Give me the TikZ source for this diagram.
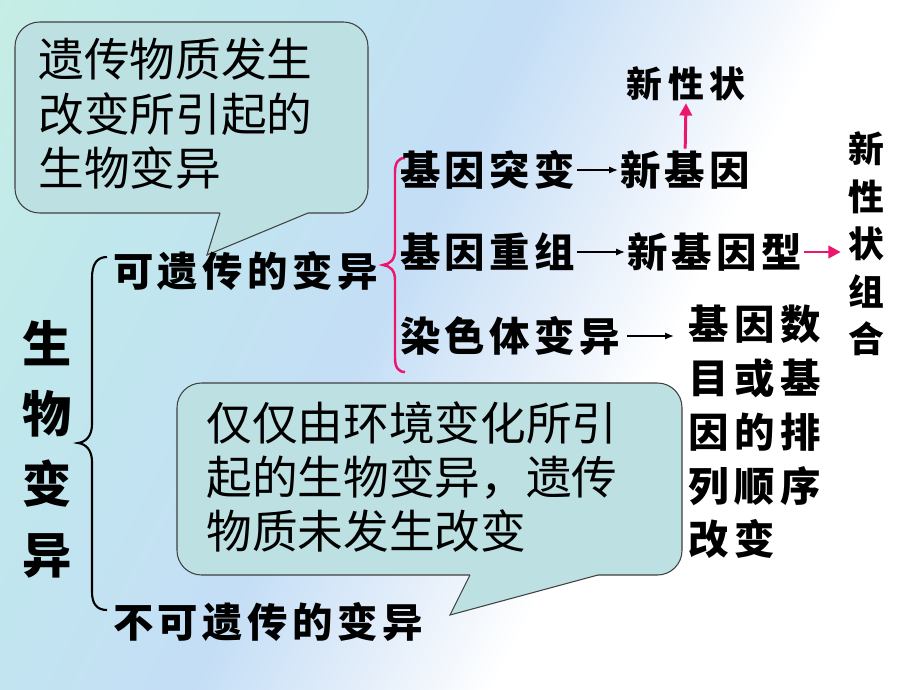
\documentclass[tikz,border=0pt]{standalone}
\usepackage{fontspec}
\newfontfamily\cjktext{Noto Sans CJK SC}
\newfontfamily\cjkbrush[LetterSpace=11]{Noto Sans CJK SC}
\newfontfamily\cjkblock[LetterSpace=14]{Noto Sans CJK SC}
\newfontfamily\cjkwide[LetterSpace=17]{Noto Sans CJK SC}
\usetikzlibrary{arrows.meta}

\definecolor{calloutfill}{RGB}{189,225,227}
\definecolor{pinkline}{RGB}{236,22,110}
\definecolor{bgmint}{RGB}{206,245,220}
\definecolor{bgcyan}{RGB}{192,232,236}
\definecolor{bgblue}{RGB}{196,222,246}
\definecolor{bgpale}{RGB}{228,238,250}
\pgfdeclarehorizontalshading{bgshade}{100bp}{color(0bp)=(bgmint); color(28bp)=(bgcyan); color(45bp)=(bgblue); color(54bp)=(bgpale); color(61bp)=(white); color(100bp)=(white)}

\tikzset{
  callout/.style={draw=black!75, fill=calloutfill, line width=0.6pt},
  callouttext/.style={font=\cjktext\fontsize{26}{31}\selectfont, align=left, inner sep=0pt},
  brushtext/.style={font=\cjkbrush\bfseries\fontsize{23}{27}\selectfont, inner sep=1pt},
  smallbrush/.style={font=\cjkwide\bfseries\fontsize{20.4}{24}\selectfont, inner sep=1pt},
  blockbrush/.style={font=\cjkblock\bfseries\fontsize{23}{30.6}\selectfont, align=left, inner sep=0pt},
  verticalbrush/.style={font=\cjktext\bfseries\fontsize{20.4}{27}\selectfont, align=center, inner sep=0pt},
  bigtitle/.style={font=\cjktext\bfseries\fontsize{28}{40}\selectfont, align=center, inner sep=0pt},
  thinarrow/.style={-{Latex[length=5pt,width=4pt]}, line width=0.8pt, black},
  pinkarrow/.style={-{Triangle[length=7pt,width=7pt]}, line width=1.7pt, pinkline},
  blackbrace/.style={line width=1.2pt, black},
  pinkbrace/.style={line width=1.4pt, pinkline}
}

\begin{document}
\begin{tikzpicture}[x=0.02cm,y=-0.02cm]
\useasboundingbox (0,0) rectangle (920,690);
\shade[shading=bgshade, shading angle=-27] (0,0) rectangle (920,690);

% callouts
\draw[callout, rounded corners=14pt] (15,22) rectangle (368,213);
\fill[calloutfill] (220,211) -- (308,211) -- (308,213) -- (207,255) -- (220,213) -- cycle;
\draw[black!75, line width=0.6pt] (220,213) -- (207,255) -- (308,213);

\draw[callout, rounded corners=14pt] (177,383) rectangle (682,575);
\fill[calloutfill] (470,573) -- (598,573) -- (598,575) -- (450,615) -- (470,575) -- cycle;
\draw[black!75, line width=0.6pt] (470,575) -- (450,615) -- (598,575);

\node[callouttext, anchor=west] (heredtext) at (38,114) {遗传物质发生\\改变所引起的\\生物变异};
\node[callouttext, anchor=west] (envtext) at (206,477) {仅仅由环境变化所引\\起的生物变异，遗传\\物质未发生改变};

% main labels
\node[bigtitle] (bio) at (47,449) {生\\物\\变\\异};
\node[brushtext, anchor=west] (herit) at (111,271) {可遗传的变异};
\node[brushtext, anchor=west] (nonherit) at (111,622) {不可遗传的变异};

% braces
\draw[blackbrace] (107,257) .. controls (97,257) and (92,264) .. (92,278) -- (92,424)
  .. controls (92,436) and (86,442) .. (78,443) .. controls (86,444) and (92,450) .. (92,462)
  -- (92,592) .. controls (92,604) and (97,610) .. (107,610);
\draw[pinkbrace] (405,158) .. controls (398,158) and (395,163) .. (395,172) -- (395,250)
  .. controls (395,260) and (390,264) .. (383,265) .. controls (390,266) and (395,270) .. (395,280)
  -- (395,358) .. controls (395,367) and (398,372) .. (405,372);

% right side
\node[brushtext, anchor=west] (mut) at (398,170) {基因突变};
\node[brushtext, anchor=west] (newgene) at (618,170) {新基因};
\node[smallbrush] (newtrait) at (686,84) {新性状};
\node[brushtext, anchor=west] (recomb) at (398,252) {基因重组};
\node[brushtext, anchor=west] (newtype) at (625,252) {新基因型};
\node[verticalbrush] (newcombo) at (866,244) {新\\性\\状\\组\\合};
\node[brushtext, anchor=west] (chrom) at (398,336) {染色体变异};
\node[blockbrush, anchor=north west] (numorder) at (688,305) {基因数\\目或基\\因的排\\列顺序\\改变};

\draw[thinarrow] (mut.east) -- (newgene.west);
\draw[thinarrow] (recomb.east) -- (newtype.west);
\draw[thinarrow, shorten <=3pt, shorten >=8pt] (chrom.east) -- (chrom.east -| numorder.west);
\draw[pinkarrow] (newgene.north) -- (newtrait.south);
\draw[pinkarrow, shorten >=4pt] (newtype.east) -- (newtype.east -| newcombo.west);
\end{tikzpicture}
\end{document}
